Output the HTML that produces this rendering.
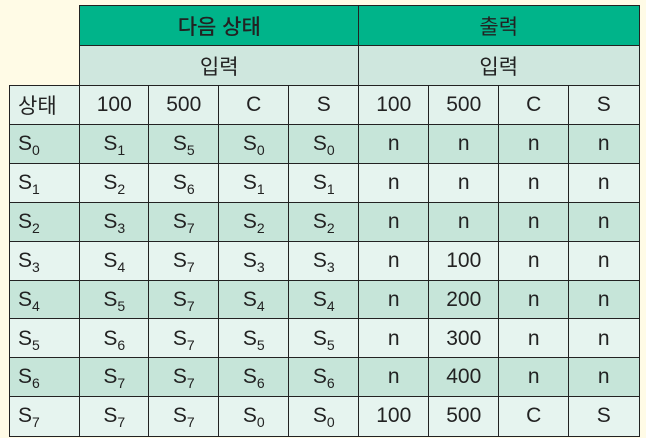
<!DOCTYPE html>
<html><head><meta charset="utf-8"><style>
body{margin:0;width:646px;height:438px;background:#fffbe6;position:relative;overflow:hidden;font-family:"Liberation Sans","Noto Sans CJK KR",sans-serif;}
.c{position:absolute;box-sizing:border-box;border:1.5px solid #222;display:flex;align-items:center;justify-content:center;font-size:21px;color:#222;}
.l{justify-content:flex-start;padding-left:8px;}
sub{font-size:14px;vertical-align:-5px;line-height:0;}
</style></head><body>
<script>
const cols=[9,79,148,218,288,358,428,498,568,638];
const rowTop=85,rowH=38.9;
const headers=['상태','100','500','C','S','100','500','C','S'];
const states=['0','1','2','3','4','5','6','7'];
const next=[['1','5','0','0'],['2','6','1','1'],['3','7','2','2'],['4','7','3','3'],['5','7','4','4'],['6','7','5','5'],['7','7','6','6'],['7','7','0','0']];
const outs=[['n','n','n','n'],['n','n','n','n'],['n','n','n','n'],['n','100','n','n'],['n','200','n','n'],['n','300','n','n'],['n','400','n','n'],['100','500','C','S']];
function cell(x,y,w,h,html,bg,name,extra){
  const d=document.createElement('div');
  d.className='c'+(extra?' '+extra:'');
  d.style.cssText=`left:${x}px;top:${y}px;width:${w+1.5}px;height:${h+1.5}px;background:${bg};`;
  d.innerHTML='<span>'+html+'</span>';
  
  
  document.body.appendChild(d);return d;
}
cell(79,5,279,40,'<b style="font-weight:500">다음 상태</b>','#00b48a','group-next-state');
cell(358,5,280,40,'출력','#00b48a','group-output');
cell(79,45,279,40,'입력','#cfe7de','subheader-input-next');
cell(358,45,280,40,'입력','#cfe7de','subheader-input-output');
headers.forEach((h,i)=>cell(cols[i],rowTop,cols[i+1]-cols[i],rowH,h,'#e2f2ec','col-header-'+i,i==0?'l':''));
states.forEach((s,r)=>{
  const y=rowTop+rowH*(r+1), bg=r%2==0?'#c6e5d9':'#e6f4ef';
  cell(cols[0],y,cols[1]-cols[0],rowH,'S<sub>'+s+'</sub>',bg,'state-s'+s,'l');
  next[r].forEach((v,j)=>cell(cols[j+1],y,cols[j+2]-cols[j+1],rowH,'S<sub>'+v+'</sub>',bg,'next-s'+s+'-'+j));
  outs[r].forEach((v,j)=>cell(cols[j+5],y,cols[j+6]-cols[j+5],rowH,v,bg,'out-s'+s+'-'+j));
});
</script>
</body></html>
